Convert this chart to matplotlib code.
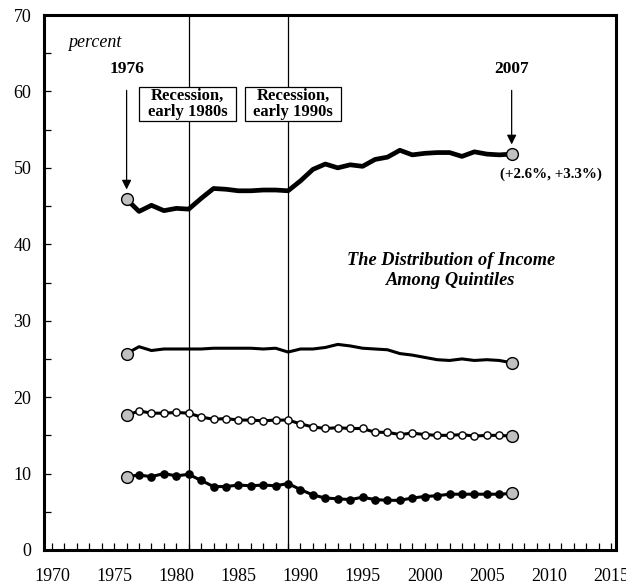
import numpy as np
import matplotlib
matplotlib.use("Agg")
import matplotlib.pyplot as plt
from matplotlib.patches import Rectangle

years = list(range(1976, 2008))

top_fifth = [45.9, 44.3, 45.1, 44.4, 44.7, 44.6, 46.0, 47.3, 47.2, 47.0, 47.0, 47.1,
             47.1, 47.0, 48.3, 49.8, 50.5, 50.0, 50.4, 50.2, 51.1, 51.4, 52.3, 51.7,
             51.9, 52.0, 52.0, 51.5, 52.1, 51.8, 51.7, 51.8]
fourth_fifth = [25.7, 26.6, 26.1, 26.3, 26.3, 26.3, 26.3, 26.4, 26.4, 26.4, 26.4, 26.3,
                26.4, 25.9, 26.3, 26.3, 26.5, 26.9, 26.7, 26.4, 26.3, 26.2, 25.7, 25.5,
                25.2, 24.9, 24.8, 25.0, 24.8, 24.9, 24.8, 24.5]
middle_fifth = [17.6, 18.2, 17.9, 17.9, 18.0, 17.9, 17.4, 17.1, 17.2, 17.0, 17.0, 16.9,
                17.0, 17.0, 16.5, 16.1, 15.9, 16.0, 15.9, 15.9, 15.4, 15.4, 15.1, 15.3,
                15.1, 15.0, 15.0, 15.1, 14.9, 15.0, 15.0, 14.9]
bottom_fifth = [9.6, 9.8, 9.6, 10.0, 9.7, 9.9, 9.1, 8.3, 8.3, 8.5, 8.4, 8.5,
                8.4, 8.7, 7.9, 7.2, 6.8, 6.7, 6.6, 6.9, 6.6, 6.5, 6.5, 6.8,
                7.0, 7.1, 7.3, 7.3, 7.3, 7.3, 7.3, 7.4]

recessions = [1981, 1989]
recession_labels = ["Recession,\nearly 1980s", "Recession,\nearly 1990s"]

plt.rcParams['font.family'] = ['Liberation Serif', 'DejaVu Serif']

fig = plt.figure(figsize=(6.26, 5.88), dpi=100)
ax = fig.add_axes([44/626, 1 - 550/588, 572/626, 535/588])

for r in recessions:
    ax.axvline(r, color='black', lw=0.9, zorder=1)

ax.plot(years, top_fifth, color='black', lw=3.4, solid_joinstyle='round', zorder=3)
ax.plot(years, fourth_fifth, color='black', lw=2.2, zorder=3)
ax.plot(years, middle_fifth, color='black', lw=2.2, marker='o', ms=5.2,
        mfc='white', mec='black', mew=1.0, zorder=3)
ax.plot(years, bottom_fifth, color='black', lw=2.2, marker='o', ms=5.2,
        mfc='black', mec='black', zorder=3)

# gray end points
for s in [top_fifth, fourth_fifth, middle_fifth, bottom_fifth]:
    ax.plot([years[0], years[-1]], [s[0], s[-1]], ls='none', marker='o', ms=8.5,
            mfc='#c0c0c0', mec='black', mew=1.0, zorder=4)

# recession boxes, centred on the recession lines
box_w, box_h = 7.8, 4.35
for r, lab in zip([1980.9, 1989.4], recession_labels):
    ax.add_patch(Rectangle((r - box_w / 2, 58.35 - box_h / 2), box_w, box_h,
                           fc='white', ec='black', lw=0.9, zorder=5))
    ax.text(r, 58.35, lab, ha='center', va='center', fontsize=12, fontweight='bold',
            linespacing=1.05, zorder=6)

ax.annotate('', xy=(years[0], top_fifth[0] + 0.9), xytext=(years[0], 60.5),
            arrowprops=dict(arrowstyle='-|>', color='black', lw=0.9, mutation_scale=14))
ax.annotate('', xy=(years[-1], top_fifth[-1] + 0.9), xytext=(years[-1], 60.5),
            arrowprops=dict(arrowstyle='-|>', color='black', lw=0.9, mutation_scale=14))
ax.text(years[0], 63.0, '1976', ha='center', va='center', fontsize=12.5, fontweight='bold')
ax.text(years[-1], 62.9, '2007', ha='center', va='center', fontsize=12.5, fontweight='bold')
ax.text(2010.2, 49.1, '(+2.6%, +3.3%)', ha='center', va='center', fontsize=10.8,
        fontweight='bold')
ax.text(1973.4, 66.4, 'percent', ha='center', va='center', fontsize=13, style='italic')
ax.text(2002.1, 36.6, 'The Distribution of Income\nAmong Quintiles', ha='center',
        va='center', fontsize=13.2, fontweight='bold', style='italic', linespacing=1.2)

ax.set_xlim(1969.35, 2015.4)
ax.set_ylim(0, 70)
ax.set_xticks(range(1970, 2016, 5))
ax.set_xticks(range(1970, 2016), minor=True)
ax.set_yticks(range(0, 71, 10))
ax.set_yticks(range(0, 71, 5), minor=True)
ax.tick_params(axis='both', which='both', direction='in', labelsize=13, width=0.9)
ax.tick_params(axis='x', which='major', length=5, pad=13)
ax.tick_params(axis='x', which='minor', length=5)
ax.tick_params(axis='y', which='major', length=5, pad=9)
ax.tick_params(axis='y', which='minor', length=5)
for sp in ax.spines.values():
    sp.set_linewidth(2.2)

fig.savefig('out.png', dpi=100)
